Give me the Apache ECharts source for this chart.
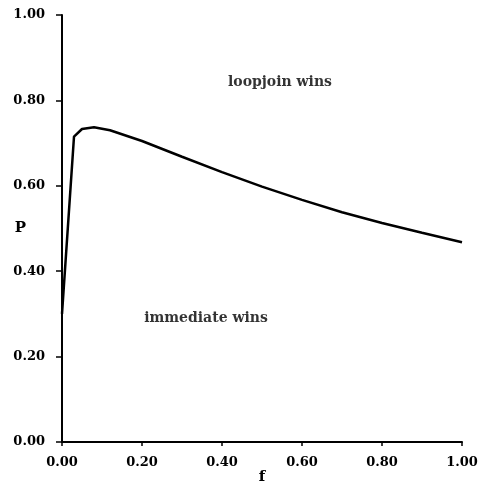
<!DOCTYPE html>
<html><head><meta charset="utf-8">
<script src="https://cdn.jsdelivr.net/npm/echarts@6/dist/echarts.min.js"></script>
<style>html,body{margin:0;padding:0;background:#fff}#c{width:486px;height:486px}</style>
</head><body><div id="c"></div>
<script>
const fValues = [0, 0.03, 0.05, 0.08, 0.12, 0.2, 0.3, 0.4, 0.5, 0.6, 0.7, 0.8, 0.9, 1.0];
const pValues = [0.30, 0.715, 0.733, 0.737, 0.730, 0.705, 0.668, 0.632, 0.598, 0.567, 0.538, 0.513, 0.490, 0.468];
const regionLabels = [
  {text: 'loopjoin wins', f: 0.545, p: 0.843},
  {text: 'immediate wins', f: 0.36, p: 0.29}
];
const font = '"DejaVu Serif", "Liberation Serif", serif';
const chart = echarts.init(document.getElementById('c'), null, {renderer: 'canvas'});
chart.setOption({
  animation: false,
  grid: {left: 62, right: 24, top: 15, bottom: 44, containLabel: false, outerBoundsMode: 'none'},
  xAxis: {
    type: 'value', min: 0, max: 1, interval: 0.2,
    name: 'f', nameLocation: 'middle', nameGap: 28, nameMoveOverlap: false,
    nameTextStyle: {fontFamily: font, fontWeight: 'bold', fontSize: 15, color: '#000'},
    axisLine: {lineStyle: {color: '#000', width: 2}},
    axisTick: {show: true, length: 4, inside: false, lineStyle: {color: '#000', width: 1.5}},
    axisLabel: {formatter: v => v.toFixed(2), fontFamily: font, fontWeight: 'bold', fontSize: 13, color: '#000', margin: 14},
    splitLine: {show: false}
  },
  yAxis: {
    type: 'value', min: 0, max: 1, interval: 0.2,
    name: 'P', nameLocation: 'middle', nameGap: 36, nameRotate: 0, nameMoveOverlap: false,
    nameTextStyle: {fontFamily: font, fontWeight: 'bold', fontSize: 15, color: '#000', padding: [0, 0, 12, 0]},
    axisLine: {show: true, lineStyle: {color: '#000', width: 2}},
    axisTick: {show: true, length: 6, lineStyle: {color: '#000', width: 1.5}},
    axisLabel: {formatter: v => v.toFixed(2), fontFamily: font, fontWeight: 'bold', fontSize: 13, color: '#000', margin: 17},
    splitLine: {show: false}
  },
  series: [
    {
      type: 'line',
      data: fValues.map((f, i) => [f, pValues[i]]),
      showSymbol: false,
      lineStyle: {color: '#000', width: 2.5},
      z: 3
    },
    {
      type: 'scatter',
      data: regionLabels.map(r => [r.f, r.p]),
      symbolSize: 0,
      label: {
        show: true, position: 'inside', align: 'center', verticalAlign: 'middle',
        formatter: p => regionLabels[p.dataIndex].text,
        fontFamily: font, fontWeight: 'bold', fontSize: 14, color: '#000'
      },
      silent: true
    }
  ]
});
</script></body></html>
